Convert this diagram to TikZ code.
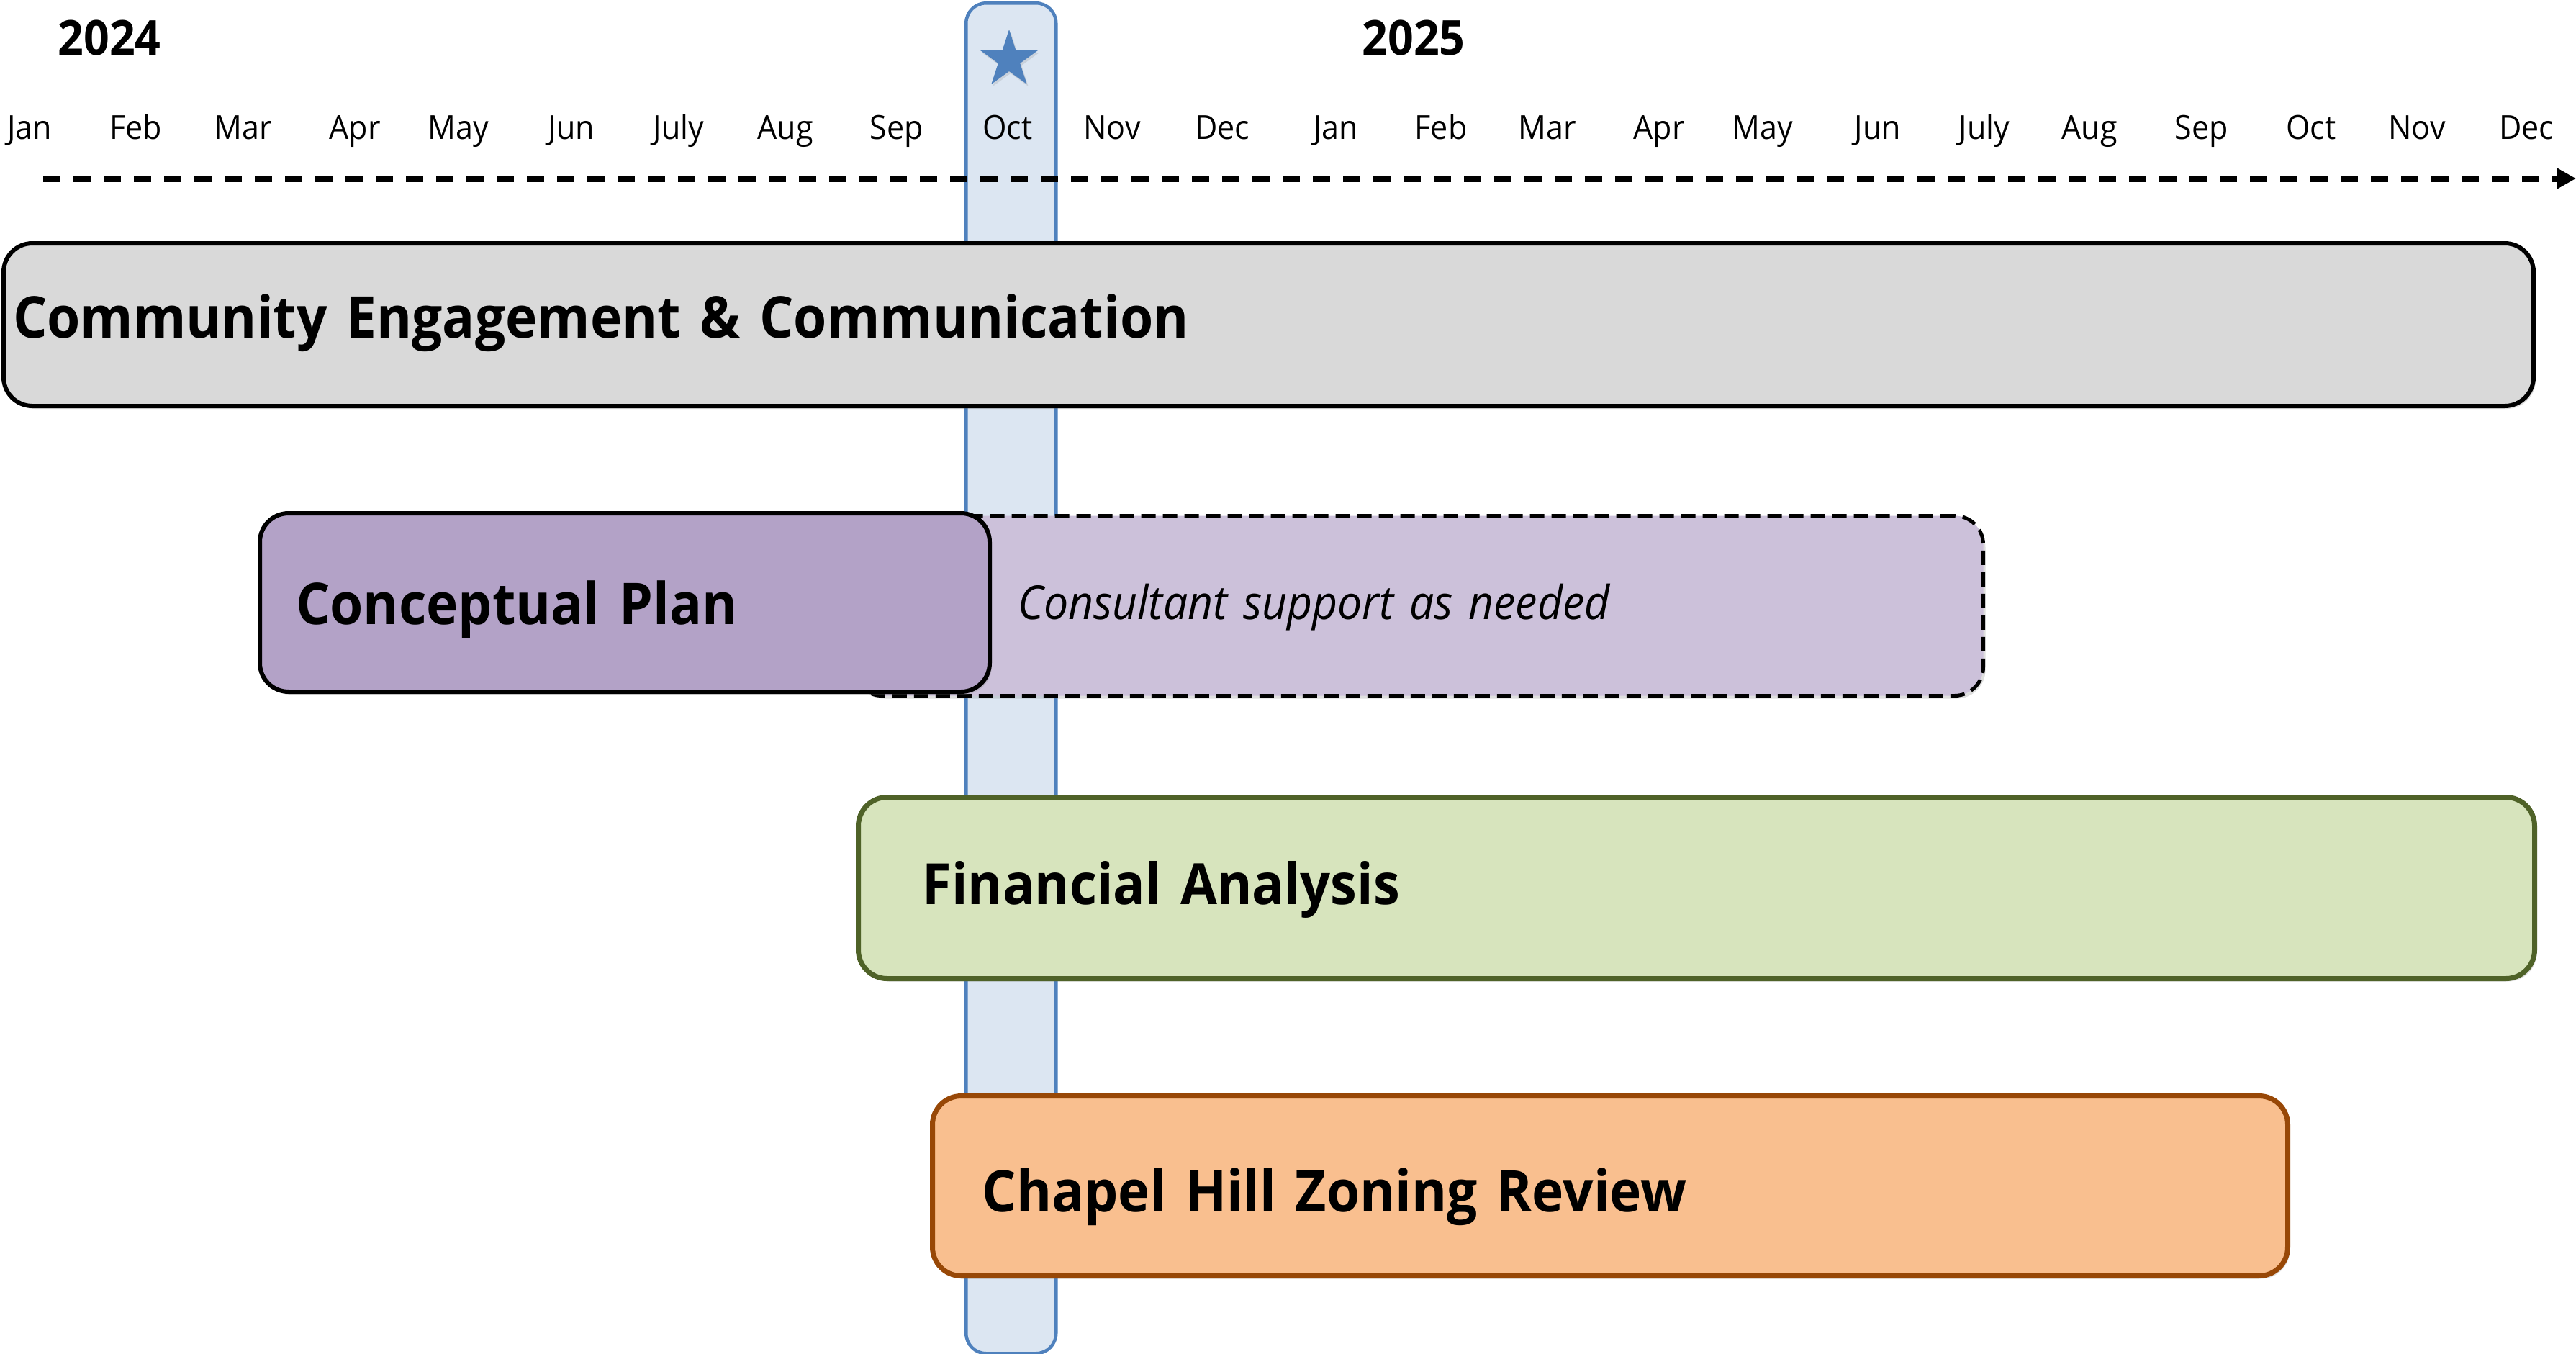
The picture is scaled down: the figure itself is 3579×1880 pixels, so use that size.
\documentclass[tikz,border=0pt]{standalone}
\usepackage{fontspec}
\setmainfont[FakeStretch=0.935]{Open Sans}
\usetikzlibrary{arrows.meta,shapes.geometric,shadows}
\definecolor{octfill}{HTML}{DCE6F2}
\definecolor{octline}{HTML}{4F81BD}
\definecolor{grayfill}{HTML}{D9D9D9}
\definecolor{cpfill}{HTML}{B3A2C7}
\definecolor{consfill}{HTML}{CCC1DA}
\definecolor{fafill}{HTML}{D7E4BD}
\definecolor{faline}{HTML}{4F6228}
\definecolor{chfill}{HTML}{F9BF8F}
\definecolor{chline}{HTML}{984807}
\begin{document}
\begin{tikzpicture}[x=1pt,y=-1pt,
  month/.style={anchor=base,inner sep=0pt,font=\fontsize{46}{52}\selectfont},
  yearlbl/.style={anchor=base,inner sep=0pt,font=\bfseries\fontsize{67}{74}\selectfont},
  shad/.style={drop shadow={opacity=0.25,shadow xshift=3pt,shadow yshift=-4pt}},
  bar/.style={shape=rectangle,rounded corners=40pt,line width=6pt,anchor=north west,
    align=left,inner ysep=0pt,shad,font=\bfseries\fontsize{80}{92}\selectfont},
]
\useasboundingbox (0,0) rectangle (3579,1880);
% October highlight column
\node[shape=rectangle,rounded corners=28pt,draw=octline,fill=octfill,line width=4.5pt,
  anchor=north west,minimum width=125pt,minimum height=1876pt,inner sep=0pt] (oct) at (1340,2) {};
% timeline arrow
\coordinate (astart) at (60,248);
\coordinate (aend) at (3579,248);
\draw[line width=9pt,dash pattern=on 24pt off 18pt,-{Triangle[length=27pt,width=28pt]}] (astart) -- (aend);
% star
\node[star,star points=5,star point ratio=2.618,fill=octline,minimum size=84pt,inner sep=0pt,
  drop shadow={opacity=0.2,shadow xshift=2pt,shadow yshift=-3pt}] (star) at (1402,83) {};
% years
\node[yearlbl] (y2024) at (152,76) {2024};
\node[yearlbl] (y2025) at (1964,76) {2025};
% months
\node[month] (m1) at (41,193) {Jan};
\node[month] (m2) at (189,193) {Feb};
\node[month] (m3) at (338,193) {Mar};
\node[month] (m4) at (493,193) {Apr};
\node[month] (m5) at (637,193) {May};
\node[month] (m6) at (794,193) {Jun};
\node[month] (m7) at (943,193) {July};
\node[month] (m8) at (1091,193) {Aug};
\node[month] (m9) at (1246,193) {Sep};
\node[month] (m10) at (1400,193) {Oct};
\node[month] (m11) at (1545,193) {Nov};
\node[month] (m12) at (1698,193) {Dec};
\node[month] (m13) at (1856,193) {Jan};
\node[month] (m14) at (2002,193) {Feb};
\node[month] (m15) at (2150,193) {Mar};
\node[month] (m16) at (2305,193) {Apr};
\node[month] (m17) at (2449,193) {May};
\node[month] (m18) at (2609,193) {Jun};
\node[month] (m19) at (2757,193) {July};
\node[month] (m20) at (2903,193) {Aug};
\node[month] (m21) at (3059,193) {Sep};
\node[month] (m22) at (3211,193) {Oct};
\node[month] (m23) at (3358,193) {Nov};
\node[month] (m24) at (3510,193) {Dec};
% bars
\node[bar,draw=black,fill=grayfill,minimum width=3515pt,minimum height=226pt,
  inner xsep=13pt,text width=3489pt,text height=60pt,text depth=24pt] (comm) at (2,335)
  {Community Engagement \& Communication};
\node[bar,draw=black,fill=consfill,dash pattern=on 20pt off 10pt,line width=5pt,
  minimum width=1570pt,minimum height=250pt,inner xsep=0pt,text width=1570pt,
  text height=60pt,text depth=22pt,
  font=\itshape\fontsize{65}{72}\selectfont] (cons) at (1183,714)
  {\hspace*{229pt}Consultant support as needed};
\node[bar,draw=black,fill=cpfill,minimum width=1014pt,minimum height=248pt,
  inner xsep=50pt,text width=914pt,text height=80pt,text depth=20pt] (plan) at (358,710)
  {Conceptual Plan};
\node[bar,draw=faline,fill=fafill,line width=7pt,minimum width=2329pt,minimum height=252pt,
  inner xsep=89pt,text width=2151pt,text height=70pt,text depth=24pt,
  font=\bfseries\fontsize{79}{90}\selectfont] (fin) at (1189,1104) {Financial Analysis};
\node[bar,draw=chline,fill=chfill,line width=7pt,minimum width=1883pt,minimum height=250pt,
  inner xsep=69pt,text width=1745pt,text height=86pt,text depth=14pt] (zon) at (1292,1519)
  {Chapel Hill Zoning Review};
\end{tikzpicture}
\end{document}
